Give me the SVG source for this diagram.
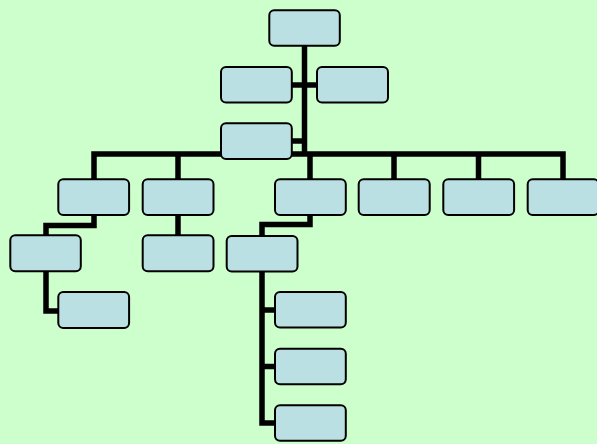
<svg xmlns="http://www.w3.org/2000/svg" width="597" height="444" viewBox="0 0 597 444">
<style>
.bx{fill:#BBE0E3;stroke:#000;stroke-width:2}
.cn{fill:none;stroke:#000;stroke-width:5.5;stroke-linejoin:miter;stroke-linecap:butt}
</style>
<rect width="597" height="444" fill="#CCFFCC"/>
<g id="connectors">
<path class="cn" d="M304.5,46 V154"/>
<path class="cn" d="M292,85 H317"/>
<path class="cn" d="M292,141 H304.5"/>
<path class="cn" d="M94,179 V154 H563 V179"/>
<path class="cn" d="M178,154 V179"/>
<path class="cn" d="M310,154 V179"/>
<path class="cn" d="M394,154 V179"/>
<path class="cn" d="M478.5,154 V179"/>
<path class="cn" d="M94,215 V225.5 H46 V235"/>
<path class="cn" d="M46,271 V311 H58"/>
<path class="cn" d="M178,215 V235"/>
<path class="cn" d="M310,215 V224.5 H262 V235"/>
<path class="cn" d="M262,271 V423 H275"/>
<path class="cn" d="M262,310 H275"/>
<path class="cn" d="M262,366.5 H275"/>
</g>
<g id="n0"><rect class="bx" x="269.3" y="10.3" width="70.5" height="35.5" rx="5"/></g>
<g id="n1"><rect class="bx" x="221" y="67" width="70.8" height="35.5" rx="5"/></g>
<g id="n2"><rect class="bx" x="317" y="67" width="71" height="35.5" rx="5"/></g>
<g id="n3"><rect class="bx" x="221" y="123.3" width="70.8" height="35.8" rx="5"/></g>
<g id="n4"><rect class="bx" x="58.3" y="179.3" width="70.8" height="35.8" rx="5"/></g>
<g id="n5"><rect class="bx" x="142.7" y="179.3" width="70.8" height="35.8" rx="5"/></g>
<g id="n6"><rect class="bx" x="275" y="179.3" width="70.8" height="35.8" rx="5"/></g>
<g id="n7"><rect class="bx" x="358.7" y="179.3" width="71" height="35.8" rx="5"/></g>
<g id="n8"><rect class="bx" x="443.3" y="179.3" width="70.8" height="35.8" rx="5"/></g>
<g id="n9"><rect class="bx" x="527.7" y="179.3" width="71" height="35.8" rx="5"/></g>
<g id="n10"><rect class="bx" x="10.3" y="235.3" width="70.5" height="36" rx="5"/></g>
<g id="n11"><rect class="bx" x="142.7" y="235.3" width="70.8" height="36" rx="5"/></g>
<g id="n12"><rect class="bx" x="226.7" y="236" width="70.8" height="35.5" rx="5"/></g>
<g id="n13"><rect class="bx" x="58.3" y="292" width="70.8" height="36" rx="5"/></g>
<g id="n14"><rect class="bx" x="275" y="292" width="70.8" height="35.5" rx="5"/></g>
<g id="n15"><rect class="bx" x="275" y="348.7" width="70.8" height="35.5" rx="5"/></g>
<g id="n16"><rect class="bx" x="275" y="405.3" width="70.8" height="35.5" rx="5"/></g>
</svg>
